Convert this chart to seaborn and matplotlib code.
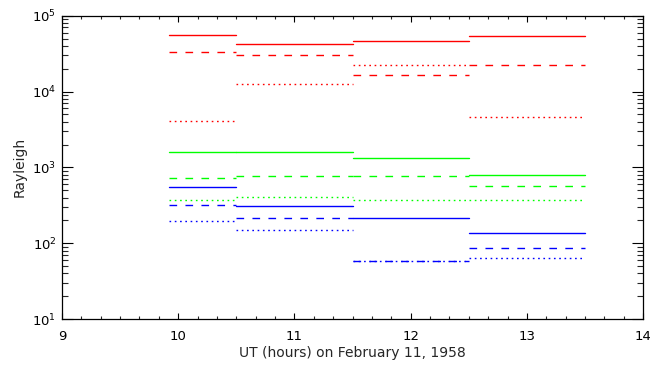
import numpy as np
import pandas as pd
import matplotlib
matplotlib.use('Agg')
import matplotlib.pyplot as plt
import matplotlib.ticker as mticker
import seaborn as sns

# Intervalos de tempo (UT, horas)
bin_start = [9.92, 10.5, 11.5, 12.5]
bin_end = [10.5, 11.5, 12.5, 13.5]

# Intensidades em Rayleigh
red_solid = [55000, 42000, 46500, 54000]
red_dashed = [33500, 30300, 16500, 22400]
red_dotted = [4100, 12700, 22400, 4600]
green_solid = [1590, 1590, 1330, 784]
green_dashed = [723, 760, 767, 561]
green_dotted = [374, 405, 374, 374]
blue_solid = [555, 308, 212, 135]
blue_dashed = [321, 212, 58, 87]
blue_dotted = [194, 150, 58, 63]

series = {
    ('red', 'solid'): red_solid,
    ('red', 'dashed'): red_dashed,
    ('red', 'dotted'): red_dotted,
    ('green', 'solid'): green_solid,
    ('green', 'dashed'): green_dashed,
    ('green', 'dotted'): green_dotted,
    ('blue', 'solid'): blue_solid,
    ('blue', 'dashed'): blue_dashed,
    ('blue', 'dotted'): blue_dotted,
}

rows = []
seg = 0
for (cor, estilo), valores in series.items():
    for x0, x1, v in zip(bin_start, bin_end, valores):
        rows.append({'hora': x0, 'valor': v, 'cor': cor, 'estilo': estilo, 'seg': seg})
        rows.append({'hora': x1, 'valor': v, 'cor': cor, 'estilo': estilo, 'seg': seg})
        seg += 1
df = pd.DataFrame(rows)

sns.set_style('white')
plt.rcParams['font.family'] = ['DejaVu Sans']

fig = plt.figure(figsize=(6.5, 3.65), dpi=100)
ax = fig.add_axes([0.0954, 0.126, 0.894, 0.831])

palette = {'red': '#ff0000', 'green': '#00ff00', 'blue': '#0000ff'}
dashes = {'solid': '', 'dashed': (5.5, 6), 'dotted': (1.2, 2.6)}
sns.lineplot(data=df, x='hora', y='valor', hue='cor', style='estilo',
             units='seg', estimator=None, palette=palette, dashes=dashes,
             linewidth=1.0, legend=False, ax=ax, sort=False)

ax.set_yscale('log')
ax.set_xlim(9, 14)
ax.set_ylim(10, 1e5)
ax.xaxis.set_major_locator(mticker.MultipleLocator(1))
ax.xaxis.set_minor_locator(mticker.MultipleLocator(1 / 6))
ax.yaxis.set_major_locator(mticker.LogLocator(base=10, numticks=10))
ax.yaxis.set_minor_locator(mticker.LogLocator(base=10, subs=np.arange(2, 10), numticks=10))
ax.yaxis.set_major_formatter(mticker.LogFormatterMathtext())
ax.yaxis.set_minor_formatter(mticker.NullFormatter())

ax.tick_params(axis='x', which='major', direction='in', length=4.5, width=0.8,
               top=True, bottom=True, labelsize=9.5, pad=8, colors='black')
ax.tick_params(axis='x', which='minor', direction='in', length=2.3, width=0.8,
               top=True, bottom=True)
ax.tick_params(axis='y', which='major', direction='in', length=8, width=0.8,
               left=True, right=True, labelsize=9.5, pad=4, colors='black')
ax.tick_params(axis='y', which='minor', direction='in', length=4, width=0.8,
               left=True, right=True)
for s in ax.spines.values():
    s.set_color('black')
    s.set_linewidth(0.9)

ax.set_xlabel('UT (hours) on February 11, 1958', fontsize=10, labelpad=2)
ax.set_ylabel('Rayleigh', fontsize=10, labelpad=4)

fig.savefig('out.png', dpi=100)
